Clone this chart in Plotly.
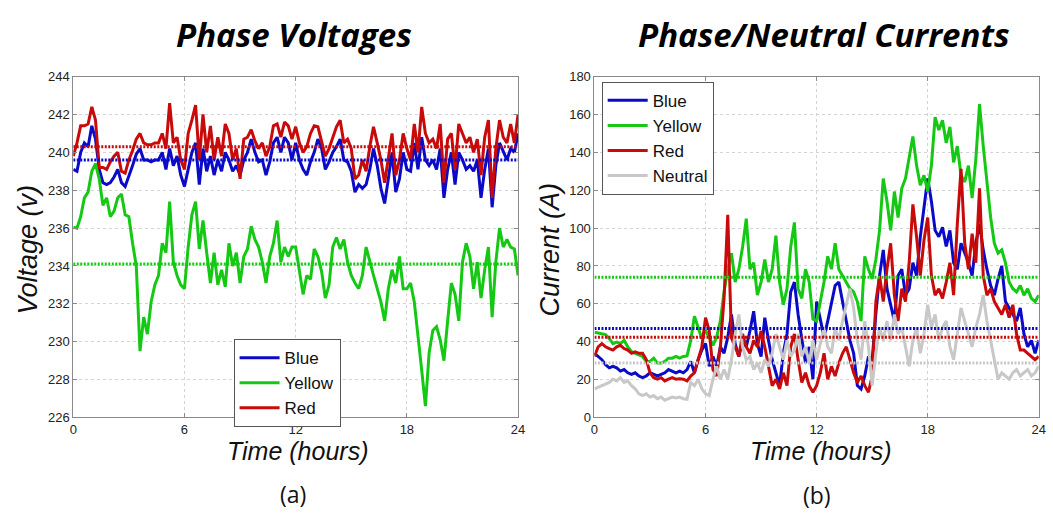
import plotly.graph_objects as go

# Sample times (hours), one reading every 12 minutes
HOURS = [round(i * 0.2, 1) for i in range(121)]

# ---- Phase voltages (V) ----
V_BLUE = [
    239.1, 239.0, 240.0, 240.5, 240.3, 241.4, 240.7, 239.1, 238.4, 238.3,
    238.4, 238.7, 239.1, 238.4, 238.2, 238.7, 239.3, 239.9, 240.2, 239.6,
    239.6, 239.5, 239.6, 239.6, 240.0, 239.1, 240.2, 239.3, 239.8, 238.8,
    238.2, 239.1, 240.0, 240.5, 238.3, 240.2, 239.0, 239.8, 238.8, 239.6,
    239.0, 240.0, 239.6, 239.0, 239.3, 238.8, 239.6, 240.0, 240.7, 240.0,
    239.5, 239.6, 238.8, 239.5, 240.5, 240.8, 240.0, 240.8, 240.5, 239.6,
    240.5, 239.6, 239.1, 238.8, 239.5, 240.0, 240.7, 240.2, 239.1, 239.5,
    240.0, 240.3, 240.7, 239.6, 239.5, 239.0, 237.9, 238.3, 238.1, 238.3,
    239.1, 240.2, 239.3, 238.1, 237.3, 238.6, 240.0, 237.9, 238.6, 240.0,
    239.1, 239.0, 240.5, 239.1, 240.8, 239.6, 239.3, 239.6, 239.1, 240.2,
    237.6, 239.1, 240.0, 238.3, 240.0, 239.6, 239.1, 239.3, 239.0, 239.6,
    237.6, 239.1, 240.2, 237.1, 239.3, 240.5, 240.0, 239.6, 240.2, 240.0,
    241.0,
]
V_YELLOW = [
    236.05, 236.0, 236.6, 237.6, 237.9, 239.0, 239.4, 238.6, 237.2, 237.6,
    236.6, 236.9, 237.6, 237.8, 236.7, 236.6, 235.2, 234.0, 229.5, 231.3,
    230.4, 232.1, 233.0, 233.5, 235.2, 234.7, 237.4, 234.2, 233.5, 233.0,
    232.8, 235.0, 236.7, 237.4, 234.9, 236.4, 234.7, 233.1, 234.7, 233.0,
    233.8, 232.9, 235.2, 234.0, 234.7, 233.1, 234.5, 234.9, 236.1, 235.4,
    235.0, 234.2, 233.1, 234.5, 235.2, 236.4, 234.2, 235.0, 234.5, 235.0,
    235.0, 233.7, 232.5, 233.5, 233.3, 234.9, 234.5, 233.7, 232.3, 233.0,
    235.0, 235.5, 234.9, 235.4, 234.2, 233.5, 233.1, 232.8, 233.5, 235.0,
    234.2, 233.5, 232.8, 232.1, 231.1, 232.8, 233.8, 233.1, 234.5, 232.8,
    232.8, 233.1, 232.1, 230.4, 228.5, 226.6, 229.4, 230.6, 230.8, 230.1,
    229.0, 231.1, 233.1, 232.5, 231.1, 234.2, 235.2, 234.5, 232.8, 234.2,
    232.3, 233.8, 235.0, 231.3, 234.2, 236.0, 235.0, 235.4, 235.0, 234.9,
    233.5,
]
V_RED = [
    239.8, 240.5, 241.4, 241.4, 241.5, 242.4, 241.7, 239.2, 239.2, 239.1,
    239.5, 239.8, 240.0, 239.0, 238.9, 239.6, 240.1, 240.7, 241.0, 240.5,
    240.4, 240.4, 240.5, 240.5, 241.0, 240.2, 242.6, 240.5, 240.8, 239.6,
    239.1, 241.0, 241.7, 242.5, 239.6, 242.0, 240.0, 241.4, 239.6, 240.8,
    239.8, 241.5, 241.0, 239.6, 240.2, 238.6, 240.7, 240.8, 241.2, 240.6,
    240.2, 240.5, 239.8, 240.3, 241.4, 241.5, 240.8, 241.6, 241.4, 240.7,
    241.35, 240.5, 240.0, 240.3, 241.0, 241.4, 241.35, 240.5, 239.8, 240.2,
    240.8, 241.35, 241.7, 240.5, 240.7, 240.2, 238.6, 238.8, 239.6, 239.0,
    240.3, 241.35, 240.5, 239.6, 238.4, 239.6, 241.0, 238.8, 239.6, 241.0,
    240.2, 239.6, 241.5, 240.0, 242.4, 241.0, 240.5, 240.7, 240.2, 241.5,
    238.4, 240.7, 241.0, 239.1, 241.5, 241.0, 240.5, 240.8, 240.0, 240.7,
    238.8, 240.8, 241.7, 237.6, 240.2, 241.7, 240.8, 240.5, 241.5, 240.5,
    242.0,
]
V_MEAN = {"Blue": 239.6, "Yellow": 234.1, "Red": 240.3}

# ---- Phase / neutral currents (A) ----
I_BLUE = [
    33.9, 32.2, 30.5, 27.9, 26.2, 27.0, 26.2, 24.5, 25.3, 23.6,
    22.7, 23.6, 21.9, 21.0, 21.9, 23.6, 22.7, 21.9, 22.7, 23.6,
    25.3, 24.5, 23.6, 24.5, 23.6, 25.3, 29.6, 23.6, 30.5, 35.6,
    39.0, 27.0, 32.2, 27.0, 37.3, 33.9, 42.4, 54.4, 39.0, 32.2,
    40.7, 37.3, 45.8, 56.1, 39.0, 32.2, 52.7, 40.7, 30.5, 23.6,
    16.8, 33.9, 44.1, 66.3, 71.5, 54.4, 40.7, 28.7, 37.3, 20.2,
    61.2, 50.9, 42.4, 50.9, 61.2, 69.7, 71.5, 61.2, 50.9, 40.7,
    33.9, 16.8, 15.0, 21.9, 32.2, 30.0, 55.0, 74.9, 88.5, 68.0,
    59.5, 50.9, 74.9, 78.3, 64.6, 68.0, 81.7, 74.9, 95.4, 112.5,
    126.2, 114.2, 98.8, 95.4, 100.5, 90.3, 98.8, 81.7, 78.3, 92.0,
    86.8, 81.7, 74.9, 92.0, 102.2, 88.5, 78.3, 69.7, 64.6, 73.2,
    80.0, 61.2, 57.8, 54.4, 50.9, 57.8, 44.1, 37.3, 40.7, 33.9,
    40.7,
]
I_YELLOW = [
    45.0, 44.5, 44.1, 43.8, 41.6, 39.0, 39.8, 39.0, 40.7, 37.3,
    34.7, 33.9, 33.0, 32.2, 29.6, 29.6, 31.3, 28.7, 28.7, 29.6,
    31.3, 31.3, 32.2, 31.3, 32.2, 32.5, 40.7, 53.5, 47.5, 41.6,
    45.8, 42.4, 38.1, 42.4, 51.0, 66.3, 78.3, 86.8, 71.5, 78.3,
    90.0, 105.0, 78.3, 81.7, 64.6, 71.5, 83.4, 71.5, 78.3, 96.0,
    71.5, 59.5, 68.0, 90.0, 103.0, 68.0, 62.9, 78.3, 71.5, 52.0,
    50.9, 61.2, 71.5, 85.1, 78.3, 92.0, 78.3, 74.9, 71.5, 68.0,
    66.3, 61.2, 50.9, 85.1, 78.3, 73.2, 83.4, 98.8, 126.2, 114.2,
    98.8, 119.3, 105.6, 121.0, 126.2, 136.4, 148.4, 133.0, 122.7, 127.9,
    119.3, 133.0, 158.6, 151.8, 156.9, 145.0, 153.5, 134.7, 143.3, 127.9,
    124.4, 133.0, 115.9, 136.4, 165.5, 143.3, 122.7, 105.6, 92.0, 86.8,
    88.5, 81.7, 71.5, 68.0, 66.3, 69.7, 64.6, 68.0, 62.9, 61.2,
    64.6,
]
I_RED = [
    32.2, 37.3, 39.0, 37.3, 36.4, 35.6, 37.3, 38.1, 36.4, 35.6,
    33.9, 34.7, 33.9, 33.9, 30.5, 23.6, 21.0, 20.2, 21.0, 19.3,
    20.2, 21.0, 20.2, 20.5, 20.2, 19.3, 21.9, 23.6, 30.5, 37.3,
    52.7, 45.8, 25.3, 21.9, 37.3, 62.9, 107.0, 42.0, 37.3, 32.2,
    44.1, 37.3, 33.9, 40.7, 37.3, 45.8, 37.3, 27.0, 16.8, 20.2,
    15.1, 23.6, 16.8, 37.3, 44.1, 30.5, 18.5, 23.6, 16.8, 13.3,
    16.8, 23.6, 33.9, 20.2, 27.0, 21.9, 28.7, 33.9, 37.3, 30.5,
    23.6, 18.5, 21.9, 16.8, 13.3, 21.9, 61.2, 74.9, 61.2, 78.3,
    92.0, 64.6, 50.9, 68.0, 61.2, 81.7, 112.5, 95.4, 74.9, 93.7,
    105.6, 74.9, 64.6, 68.0, 62.9, 71.5, 81.7, 64.6, 102.2, 131.3,
    92.0, 78.3, 97.1, 81.7, 121.0, 74.9, 64.6, 68.0, 61.2, 57.8,
    54.4, 59.5, 52.7, 59.5, 44.1, 35.6, 35.6, 33.9, 32.2, 30.5,
    32.2,
]
I_NEUTRAL = [
    15.1, 16.0, 16.8, 17.6, 18.5, 20.2, 19.3, 21.0, 18.5, 19.3,
    16.8, 15.1, 12.5, 11.6, 12.5, 10.8, 11.6, 9.9, 10.8, 9.1,
    9.9, 10.8, 10.3, 10.8, 9.9, 9.6, 18.5, 16.8, 20.2, 15.1,
    12.5, 11.6, 20.2, 27.0, 20.2, 25.3, 20.2, 30.5, 44.1, 54.4,
    37.3, 30.5, 32.2, 25.3, 28.7, 23.6, 30.5, 27.0, 33.9, 44.1,
    37.3, 30.5, 40.7, 32.2, 35.6, 44.1, 32.2, 37.3, 28.7, 40.7,
    30.5, 39.0, 47.5, 37.3, 33.9, 47.5, 40.7, 50.9, 59.5, 68.0,
    57.8, 40.7, 30.5, 50.9, 37.3, 16.8, 33.9, 47.5, 40.7, 50.9,
    40.7, 54.4, 44.1, 47.5, 37.3, 27.0, 40.7, 47.5, 33.9, 44.1,
    59.5, 47.5, 54.4, 40.7, 47.5, 50.9, 37.3, 30.5, 44.1, 57.8,
    50.9, 44.1, 37.3, 47.5, 54.4, 64.6, 50.9, 40.7, 30.5, 20.2,
    23.6, 21.9, 20.2, 23.6, 25.3, 21.9, 23.6, 25.3, 21.9, 23.6,
    27.0,
]
I_MEAN = {"Blue": 47.0, "Yellow": 74.0, "Red": 42.4, "Neutral": 28.7}

X_TICKS = [0, 6, 12, 18, 24]
V_TICKS = list(range(226, 245, 2))
I_TICKS = list(range(0, 181, 20))

COLORS = {
    "Blue": "#0a0ac8",
    "Yellow": "#14c814",
    "Red": "#c80a0a",
    "Neutral": "#c8c8c8",
}

fig = go.Figure()

# Voltage panel
for name, vals in (("Blue", V_BLUE), ("Yellow", V_YELLOW), ("Red", V_RED)):
    fig.add_trace(go.Scatter(
        x=HOURS, y=vals, name=name, mode="lines",
        line=dict(color=COLORS[name], width=3),
        xaxis="x", yaxis="y", legend="legend",
    ))
for name, m in V_MEAN.items():
    fig.add_trace(go.Scatter(
        x=[0, 24], y=[m, m], mode="lines", showlegend=False,
        line=dict(color=COLORS[name], width=3, dash="2px,1.5px"),
        xaxis="x", yaxis="y", hoverinfo="skip",
    ))

# Current panel
for name, vals in (("Blue", I_BLUE), ("Yellow", I_YELLOW),
                   ("Red", I_RED), ("Neutral", I_NEUTRAL)):
    fig.add_trace(go.Scatter(
        x=HOURS, y=vals, name=name, mode="lines",
        line=dict(color=COLORS[name], width=3),
        xaxis="x2", yaxis="y2", legend="legend2",
    ))
for name, m in I_MEAN.items():
    fig.add_trace(go.Scatter(
        x=[0, 24], y=[m, m], mode="lines", showlegend=False,
        line=dict(color=COLORS[name], width=3, dash="2px,1.5px"),
        xaxis="x2", yaxis="y2", hoverinfo="skip",
    ))

W, H = 1053, 518


def px_x(p):
    return p / W


def px_y(p):
    return (H - p) / H


TICK_FONT = dict(family="Liberation Sans, Arial, sans-serif", size=13, color="#222222")
AXIS_COMMON = dict(
    showline=True, linecolor="#8a8a8a", linewidth=1, mirror="ticks",
    ticks="inside", ticklen=4, tickcolor="#8a8a8a",
    showgrid=True, gridcolor="#d4d4d4", griddash="dot", gridwidth=1,
    zeroline=False, tickfont=TICK_FONT,
)

Y_DOM = [px_y(422.7), px_y(71.7)]
LEGEND_FONT = dict(family="Liberation Sans, Arial, sans-serif", size=17, color="#111111")

fig.update_layout(
    width=W, height=H, autosize=False,
    margin=dict(l=0, r=0, t=0, b=0),
    paper_bgcolor="white", plot_bgcolor="white",
    xaxis=dict(domain=[px_x(70), px_x(519.5)], range=[0, 24], tickvals=X_TICKS,
               anchor="y", **AXIS_COMMON),
    yaxis=dict(domain=Y_DOM, range=[226, 244], tickvals=V_TICKS, anchor="x",
               **AXIS_COMMON),
    xaxis2=dict(domain=[px_x(596.7), px_x(1045.7)], range=[0, 24], tickvals=X_TICKS,
                anchor="y2", **AXIS_COMMON),
    yaxis2=dict(domain=Y_DOM, range=[0, 180], tickvals=I_TICKS, anchor="x2",
                **AXIS_COMMON),
    legend=dict(
        x=px_x(232), y=px_y(342), xanchor="left", yanchor="top",
        bgcolor="white", bordercolor="#555555", borderwidth=1,
        font=LEGEND_FONT, tracegroupgap=0, itemwidth=40,
    ),
    legend2=dict(
        x=px_x(604), y=px_y(77), xanchor="left", yanchor="top",
        bgcolor="white", bordercolor="#555555", borderwidth=1,
        font=LEGEND_FONT, tracegroupgap=0, itemwidth=40,
    ),
    showlegend=True,
)

TITLE_FONT = dict(family="Open Sans, sans-serif", size=33, color="#000000")
X_TITLE_FONT = dict(family="Liberation Sans, Arial, sans-serif", size=25, color="#111111")
Y_TITLE_FONT = dict(family="Liberation Sans, Arial, sans-serif", size=27, color="#111111")
CAP_FONT = dict(family="Open Sans, sans-serif", size=23, color="#111111")

annotations = [
    dict(text="<b><i>Phase Voltages</i></b>", x=px_x(293.5), y=px_y(28), font=TITLE_FONT),
    dict(text="<b><i>Phase/Neutral Currents</i></b>", x=px_x(829), y=px_y(28), font=TITLE_FONT),
    dict(text="<i>Voltage (v)</i>", x=px_x(24), y=px_y(250), textangle=-90, font=Y_TITLE_FONT),
    dict(text="<i>Current (A)</i>", x=px_x(551.5), y=px_y(250), textangle=-90, font=Y_TITLE_FONT),
    dict(text="<i>Time (hours)</i>", x=px_x(297), y=px_y(457), font=X_TITLE_FONT),
    dict(text="<i>Time (hours)</i>", x=px_x(825), y=px_y(457), font=X_TITLE_FONT),
    dict(text="(a)", x=px_x(292), y=px_y(502), font=CAP_FONT),
    dict(text="(b)", x=px_x(822), y=px_y(503), font=CAP_FONT),
]
for a in annotations:
    a.update(xref="paper", yref="paper", xanchor="center", yanchor="middle", showarrow=False)
fig.update_layout(annotations=annotations)

fig.write_html("out.html")
